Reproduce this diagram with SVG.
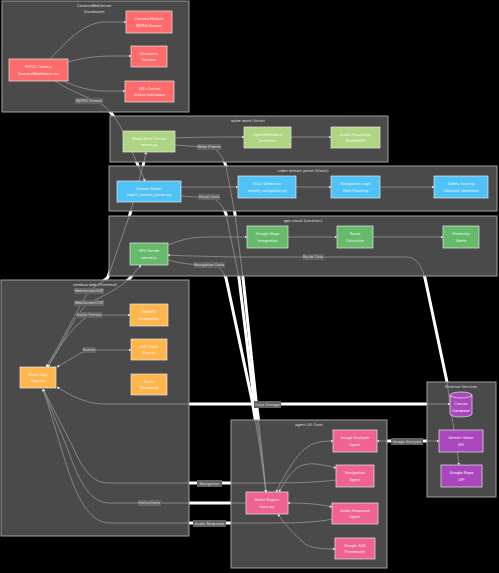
<svg xmlns="http://www.w3.org/2000/svg" width="499" height="573" viewBox="0 0 499 573">
<style>
text{font-family:"DejaVu Sans","Liberation Sans",sans-serif;font-size:3.7px;text-anchor:middle}
.cl{fill:#4a4a4a;stroke:#a0a0a0;stroke-width:1}
.ct{fill:#ddd}
.n{stroke:#e8e8e8;stroke-width:.7}
.nt{fill:#f4f4f4}
.red{fill:#ff6b6b}.lime{fill:#aed581}.blue{fill:#4fc3f7}.grn{fill:#66bb6a}.org{fill:#ffb74d}.pink{fill:#f06292}.pur{fill:#ab47bc}
.w{fill:none;stroke:#fff;stroke-width:3}
.g{fill:none;stroke:#a0a0a0;stroke-width:.7}
.lb{fill:#626262}
.lt{fill:#ddd}
.b{marker-start:url(#a)}
</style>
<defs>
<marker id="a" markerUnits="userSpaceOnUse" markerWidth="3" markerHeight="3" refX="2.4" refY="1.5" orient="auto-start-reverse"><path d="M0 0L2.5 1.500L0 3z" fill="#eee"/></marker>
<clipPath id="cc">
<rect x="2" y="1" width="187" height="111"/><rect x="110" y="116" width="278" height="46"/><rect x="109" y="166" width="388" height="45"/><rect x="109" y="216" width="388" height="60"/><rect x="1" y="280" width="188" height="256"/><rect x="231" y="420" width="156" height="148"/><rect x="427" y="382" width="69" height="115"/>
</clipPath>
<path id="p1" d="M50 59C68 40 85 22 105 22L126 22"/>
<path id="p2" d="M68 62C85 57 100 56 115 56L131 56"/>
<path id="p3" d="M63 81C80 88 90 91 105 91L125 91"/>
<path id="p4" d="M55 81C75 94 92 98 103 105C115 115 120 125 125 136L145 181"/>
<path id="p5" d="M175 138C195 137 220 137 244 137"/>
<path id="p6" d="M291 137L331 137"/>
<path id="p7" d="M181 187L238 187"/>
<path id="p8" d="M296 187L331 187"/>
<path id="p9" d="M380 187L434 187"/>
<path id="p10" d="M168 245C185 238 195 237 210 237L247 237"/>
<path id="p11" d="M288 237L337 237"/>
<path id="p12" d="M373 237L443 237"/>
<path id="p13" d="M459 465C456 440 452 420 447 382L425 278C420 262 415 257 405 257L230 257C200 256 180 256 168 255"/>
<path id="p14" d="M175 145C190 146 200 147 209 147C218 148 223 158 226 166L235 214L243 278L256 400C260 430 263 460 266 492"/>
<path id="p15" d="M181 196C190 197 200 197 209 197C218 199 224 208 226 214L239 278L254 400C259 430 262 460 266 492"/>
<path id="p16" d="M168 260C182 264 195 265 214 265C220 267 224 273 226 278L252 400C257 430 262 460 266 492"/>
<path id="p17" d="M46 367C60 345 78 308 89 291C96 285 104 282 108 277L130 214L143 166L146 152"/>
<path id="p18" d="M47 367C60 350 75 312 89 303C105 295 120 288 130 278L141 265"/>
<path id="p19" d="M48 367C60 345 75 323 89 316C95 315 100 315 105 315L130 315"/>
<path id="p20" d="M57 367C70 360 80 352 89 350C100 350 110 350 131 350"/>
<path id="p21" d="M57 387C70 395 85 404 105 404L450 404"/>
<path id="p22" d="M336 480C320 482 300 483 270 483L108 483C92 483 82 468 72 445L43 389"/>
<path id="p23" d="M246 503L109 503C92 503 80 485 68 450L43 389"/>
<path id="p24" d="M332 519C320 522 300 523 270 523L110 523C92 523 80 505 68 470C60 445 50 410 43 389"/>
<path id="p25" d="M333 441C310 441 300 445 276 492"/>
<path id="p26" d="M336 468C320 464 310 462 300 466C290 472 285 482 279 492"/>
<path id="p27" d="M332 507C320 504 305 503 288 503"/>
<path id="p28" d="M335 549C320 549 312 548 305 544C295 535 285 525 278 514"/>
<path id="p29" d="M439 441L377 441"/>
</defs>
<rect width="499" height="573" fill="#000"/>
<g id="connectors-under" class="w">
<use href="#p4"/><use href="#p13"/><use href="#p14"/><use href="#p15"/><use href="#p16"/><use href="#p17"/><use href="#p18"/><use href="#p21"/><use href="#p22"/><use href="#p23"/><use href="#p24"/><use href="#p29"/>
</g>
<g id="clusters">
<g id="cluster-hardware"><rect class="cl" x="2" y="1" width="187" height="111"/><text class="ct" x="94" y="6.500">CameraWebServer</text><text class="ct" x="94" y="13">(Hardware)</text></g>
<g id="cluster-wake"><rect class="cl" x="110" y="116" width="278" height="46"/><text class="ct" x="248" y="121.500">wake-word (Voice)</text></g>
<g id="cluster-video"><rect class="cl" x="109" y="166" width="388" height="45"/><text class="ct" x="303" y="171.500">video-stream-parse (Vision)</text></g>
<g id="cluster-gps"><rect class="cl" x="109" y="216" width="388" height="60"/><text class="ct" x="303" y="221.500">gps-visual (Location)</text></g>
<g id="cluster-web"><rect class="cl" x="1" y="280" width="188" height="256"/><text class="ct" x="95" y="285.500">cerebus-web (Frontend)</text></g>
<g id="cluster-agent"><rect class="cl" x="231" y="420" width="156" height="148"/><text class="ct" x="309" y="426">agent (AI Core)</text></g>
<g id="cluster-ext"><rect class="cl" x="427" y="382" width="69" height="115"/><text class="ct" x="461" y="387.500">External Services</text></g>
</g>
<g id="connectors">
<g class="g" clip-path="url(#cc)" marker-end="url(#a)">
<use href="#p1"/><use href="#p2"/><use href="#p3"/><use href="#p4"/><use href="#p5"/><use href="#p6"/><use href="#p7"/><use href="#p8"/><use href="#p9"/><use href="#p10"/><use href="#p11"/><use href="#p12"/><use href="#p13" class="b"/><use href="#p14"/><use href="#p15"/><use href="#p16"/><use href="#p17" class="b"/><use href="#p18" class="b"/><use href="#p19" class="b"/><use href="#p20" class="b"/><use href="#p21" class="b"/><use href="#p22"/><use href="#p23"/><use href="#p24"/><use href="#p25" class="b"/><use href="#p26" class="b"/><use href="#p27" class="b"/><use href="#p28" class="b"/><use href="#p29" class="b"/>
</g>
<g id="connector-labels">
<rect class="lb" x="75" y="98" width="28" height="6"/><text class="lt" x="89" y="102.400">MJPEG Stream</text>
<rect class="lb" x="197" y="144" width="24" height="6"/><text class="lt" x="209" y="148.400">Wake Events</text>
<rect class="lb" x="198" y="194" width="22" height="6"/><text class="lt" x="209" y="198.400">Visual Data</text>
<rect class="lb" x="194" y="262" width="31" height="6"/><text class="lt" x="209" y="266.400">Navigation Data</text>
<rect class="lb" x="303" y="254" width="21" height="6"/><text class="lt" x="313" y="258.400">Route Data</text>
<rect class="lb" x="74" y="288" width="30" height="6"/><text class="lt" x="89" y="292.400">WebSocket/SSE</text>
<rect class="lb" x="74" y="300" width="30" height="6"/><text class="lt" x="89" y="304.400">WebSocket/SSE</text>
<rect class="lb" x="76" y="312" width="26" height="6"/><text class="lt" x="89" y="316.400">Audio Stream</text>
<rect class="lb" x="83" y="347" width="13" height="6"/><text class="lt" x="89" y="351.400">Events</text>
<rect class="lb" x="197" y="480" width="25" height="7"/><text class="lt" x="209.500" y="484.900">Navigation</text>
<rect class="lb" x="138" y="500" width="23" height="6"/><text class="lt" x="149" y="504.400">Instructions</text>
<rect class="lb" x="193" y="520" width="33" height="7"/><text class="lt" x="209.500" y="524.900">Audio Response</text>
<rect class="lb" x="254" y="401" width="27" height="7"/><text class="lt" x="267.500" y="405.700">Data Storage</text>
<rect class="lb" x="391" y="438" width="32" height="7"/><text class="lt" x="407" y="442.700">Image Analysis</text>
</g>
</g>
<g id="n-esp"><rect class="n red" x="9" y="59" width="59" height="22"/><text class="nt" x="38.500" y="68">ESP32 Camera</text><text class="nt" x="38.500" y="74.500">CameraWebServer.ino</text></g>
<g id="n-cam"><rect class="n red" x="126" y="11" width="46" height="22"/><text class="nt" x="149" y="20">Camera Module</text><text class="nt" x="149" y="26.500">MJPEG Stream</text></g>
<g id="n-ultra"><rect class="n red" x="131" y="46" width="36" height="21"/><text class="nt" x="149" y="54.500">Ultrasonic</text><text class="nt" x="149" y="61">Sensors</text></g>
<g id="n-led"><rect class="n red" x="125" y="81" width="49" height="21"/><text class="nt" x="149.500" y="89.500">LED Control</text><text class="nt" x="149.500" y="96">Status Indicators</text></g>
<g id="n-wake"><rect class="n lime" x="123" y="131" width="52" height="21"/><text class="nt" x="149" y="139.500">Wake Word Server</text><text class="nt" x="149" y="146">server.py</text></g>
<g id="n-oww"><rect class="n lime" x="244" y="127" width="47" height="21"/><text class="nt" x="267.500" y="135.500">OpenWakeWord</text><text class="nt" x="267.500" y="142">Detection</text></g>
<g id="n-audio"><rect class="n lime" x="331" y="127" width="49" height="21"/><text class="nt" x="355.500" y="135.500">Audio Processing</text><text class="nt" x="355.500" y="142">WebM/WAV</text></g>
<g id="n-stream"><rect class="n blue" x="117" y="181" width="64" height="21"/><text class="nt" x="149" y="189.500">Stream Parser</text><text class="nt" x="149" y="196">esp32_stream_parser.py</text></g>
<g id="n-yolo"><rect class="n blue" x="238" y="176" width="58" height="22"/><text class="nt" x="267" y="185">YOLO Detection</text><text class="nt" x="267" y="191.500">simple_navigation.py</text></g>
<g id="n-nav"><rect class="n blue" x="331" y="176" width="49" height="22"/><text class="nt" x="355.500" y="185">Navigation Logic</text><text class="nt" x="355.500" y="191.500">Path Planning</text></g>
<g id="n-safe"><rect class="n blue" x="434" y="176" width="54" height="22"/><text class="nt" x="461" y="185">Safety Scoring</text><text class="nt" x="461" y="191.500">Obstacle Detection</text></g>
<g id="n-gps"><rect class="n grn" x="130" y="243" width="38" height="22"/><text class="nt" x="149" y="252">GPS Server</text><text class="nt" x="149" y="258.500">server.js</text></g>
<g id="n-gmaps"><rect class="n grn" x="247" y="226" width="41" height="22"/><text class="nt" x="267.500" y="235">Google Maps</text><text class="nt" x="267.500" y="241.500">Integration</text></g>
<g id="n-route"><rect class="n grn" x="337" y="226" width="36" height="22"/><text class="nt" x="355" y="235">Route</text><text class="nt" x="355" y="241.500">Calculator</text></g>
<g id="n-prox"><rect class="n grn" x="443" y="226" width="36" height="22"/><text class="nt" x="461" y="235">Proximity</text><text class="nt" x="461" y="241.500">Alerts</text></g>
<g id="n-react"><rect class="n org" x="20" y="367" width="36" height="21"/><text class="nt" x="38" y="375.500">React App</text><text class="nt" x="38" y="382">App.tsx</text></g>
<g id="n-webrtc"><rect class="n org" x="130" y="304" width="38" height="22"/><text class="nt" x="149" y="313">WebRTC</text><text class="nt" x="149" y="319.500">Integration</text></g>
<g id="n-sse"><rect class="n org" x="131" y="339" width="36" height="21"/><text class="nt" x="149" y="347.500">SSE Client</text><text class="nt" x="149" y="354">Events</text></g>
<g id="n-rec"><rect class="n org" x="131" y="374" width="36" height="21"/><text class="nt" x="149" y="382.500">Audio</text><text class="nt" x="149" y="389">Recording</text></g>
<g id="n-engine"><rect class="n pink" x="246" y="492" width="42" height="22"/><text class="nt" x="267" y="501">ReAct Engine</text><text class="nt" x="267" y="507.500">main.py</text></g>
<g id="n-img"><rect class="n pink" x="333" y="430" width="44" height="22"/><text class="nt" x="355" y="439">Image Analysis</text><text class="nt" x="355" y="445.500">Agent</text></g>
<g id="n-navag"><rect class="n pink" x="336" y="465" width="38" height="22"/><text class="nt" x="355" y="474">Navigation</text><text class="nt" x="355" y="480.500">Agent</text></g>
<g id="n-audag"><rect class="n pink" x="332" y="503" width="46" height="21"/><text class="nt" x="355" y="511.500">Audio Response</text><text class="nt" x="355" y="518">Agent</text></g>
<g id="n-adk"><rect class="n pink" x="335" y="538" width="40" height="21"/><text class="nt" x="355" y="546.500">Google ADK</text><text class="nt" x="355" y="553">Framework</text></g>
<g id="n-convex"><path class="n pur" d="M450 395A11 3 0 0 1 472 395V414A11 3 0 0 1 450 414Z"/><path d="M450 395A11 3 0 0 0 472 395" fill="none" stroke="#e8e8e8" stroke-width=".7"/><text class="nt" x="461" y="405">Convex</text><text class="nt" x="461" y="411.500">Database</text></g>
<g id="n-gemini"><rect class="n pur" x="439" y="430" width="44" height="22"/><text class="nt" x="461" y="439">Gemini Vision</text><text class="nt" x="461" y="445.500">API</text></g>
<g id="n-maps"><rect class="n pur" x="441" y="465" width="41" height="22"/><text class="nt" x="461.500" y="474">Google Maps</text><text class="nt" x="461.500" y="480.500">API</text></g>
</svg>
